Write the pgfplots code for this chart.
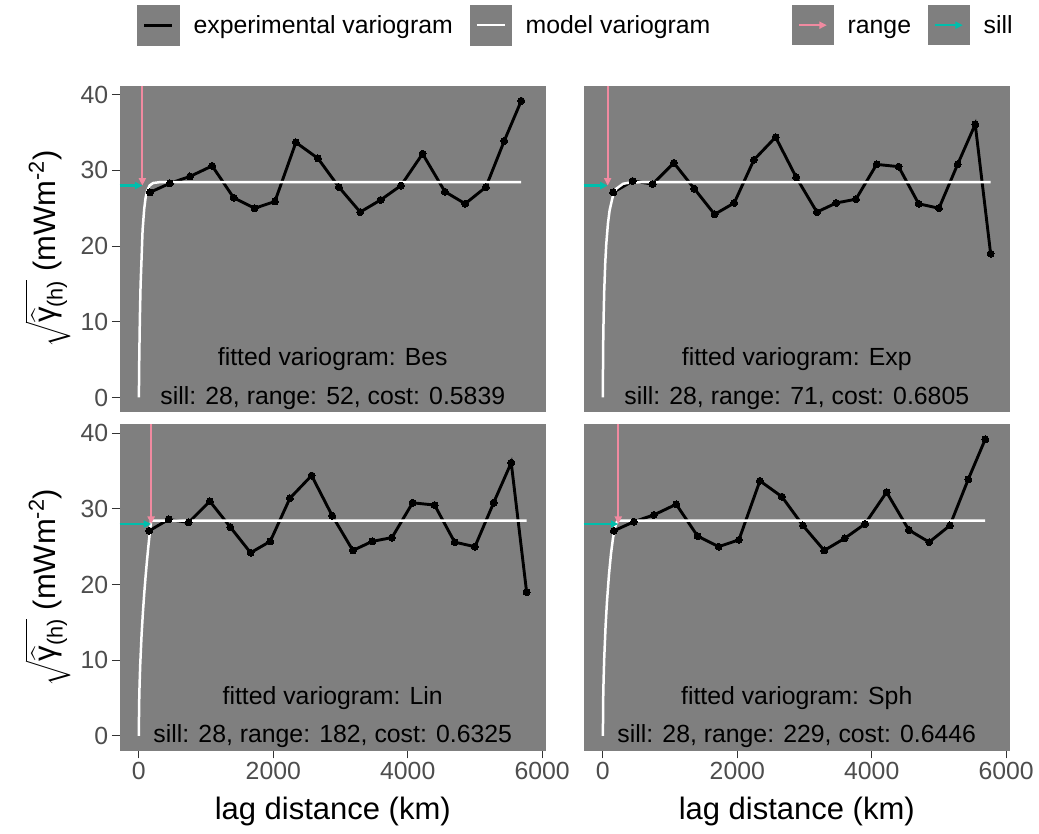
\RequirePackage{fix-cm}
\documentclass[border=0pt]{standalone}
\usepackage{amsmath}
\usepackage{fontspec}
\setmainfont{Liberation Sans}
\usepackage{pgfplots}
\usepackage{pgfplotstable}
\pgfplotsset{compat=1.18}
\usetikzlibrary{arrows.meta}
\definecolor{panelgray}{HTML}{7F7F7F}
\definecolor{tickgray}{HTML}{4D4D4D}
\definecolor{tickdark}{HTML}{333333}
\definecolor{rangecol}{RGB}{240,138,160}
\definecolor{sillcol}{RGB}{0,190,172}
\newcommand{\smallfont}{\fontsize{24.9}{30}\selectfont}
\newcommand{\bigfont}{\fontsize{31.1}{37}\selectfont}

\pgfplotstableread{
lag val
164 27.1
461 28.3
759 29.2
1091 30.6
1409 26.4
1722 25.0
2024 25.9
2336 33.7
2664 31.6
2976 27.8
3293 24.5
3597 26.1
3899 28.0
4221 32.2
4553 27.2
4855 25.6
5163 27.8
5436 33.9
5689 39.2
}\expA
\pgfplotstableread{
lag val
153 27.1
442 28.6
740 28.2
1056 31.0
1359 27.6
1662 24.2
1954 25.7
2247 31.4
2570 34.4
2876 29.1
3184 24.5
3472 25.7
3765 26.2
4073 30.8
4400 30.5
4698 25.6
5000 25.0
5278 30.8
5540 36.1
5769 19.0
}\expB
\pgfplotstableread{
lag val
0 0
5 4.6
10 7.8
15 10.6
25 14.8
40 18.4
55 22.1
79 24.9
100 26.4
124 27.3
160 28.02
213 28.34
300 28.44
5689 28.45
}\modBes
\pgfplotstableread{
lag val
0 0
2 4.74
5 7.42
10 10.31
20 14.10
35 17.75
50 20.23
75 22.98
100 24.73
150 26.68
200 27.59
300 28.24
400 28.40
600 28.45
5769 28.45
}\modExp
\pgfplotstableread{
lag val
0 0
2 2.98
5 4.72
10 6.67
20 9.43
40 13.34
60 16.34
80 18.86
100 21.09
120 23.10
140 24.95
160 26.67
182 28.45
5769 28.45
}\modLin
\pgfplotstableread{
lag val
0 0
5 5.15
10 7.28
20 10.28
40 14.49
60 17.63
90 21.27
120 24.04
150 26.11
180 27.53
205 28.23
229 28.45
5689 28.45
}\modSph

\pgfplotsset{
  panel/.style={
    width=426.5bp, height=326.3bp, scale only axis,
    anchor=south west,
    xmin=-288.45, xmax=6057.45, ymin=-1.96, ymax=41.16,
    axis background/.style={fill=panelgray},
    axis line style={draw=none},
    tick align=outside, tick pos=left,
    major tick length=7.7bp,
    tick style={tickdark, line width=1.1bp},
    xtick={0,2000,4000,6000}, ytick={0,10,20,30,40},
    scaled ticks=false,
    /pgf/number format/1000 sep={},
    /pgf/number format/assume math mode=true,
    tick label style={font=\smallfont, text=tickgray},
    xlabel style={font=\bigfont, at={(axis description cs:0.5,-0.2123)}, anchor=base},
    ylabel style={font=\bigfont, at={(axis description cs:-0.1512,0.5)}, anchor=base},
    legend image code/.code={
      \fill[panelgray] (0bp,-11.05bp) rectangle (39.4bp,27.25bp);
      \draw[##1] (5.7bp,8.1bp) -- (33.7bp,8.1bp);},
    legend columns=-1,
  },
  expline/.style={black, line width=2.9bp, mark=*, mark size=3.5bp,
    mark options={solid, fill=black, draw=black, line width=0pt}},
  modline/.style={white, line width=2.5bp, no marks},
  rangearrow/.style={rangecol, line width=2.2bp, no marks, -{Triangle[length=7.5bp,width=7bp]}},
  sillarrow/.style={sillcol, line width=2.2bp, no marks, -{Triangle[length=7.5bp,width=7bp]}},
  legstyle/.style={draw=none, fill=none, inner sep=0pt, outer sep=0pt,
    font=\smallfont, nodes={inner sep=0pt, text=black, anchor=base west},
    cells={anchor=base west},
    /tikz/every odd column/.append style={column sep=14bp},
    /tikz/every even column/.append style={column sep=17bp}},
}
\newcommand{\ylab}{$\sqrt{\widehat{\text{γ}}_{\text{(h)}}}$ (mWm$^{\text{-2}}$)}

\begin{document}
\begin{tikzpicture}
\fill[white] (0,0) rectangle (1039bp,834bp);
\path[use as bounding box] (0,0) rectangle (1039bp,834bp);

% Top-left: Bes
\begin{axis}[panel, at={(119.5bp,421.7bp)}, xtick=\empty, ylabel={\ylab},
  legend style={legstyle, at={(axis description cs:0.0417,1.1863)}, anchor=west}]
\addlegendimage{black, line width=2.9bp}
\addlegendentry{experimental variogram}
\addlegendimage{white, line width=2.5bp}
\addlegendentry{model variogram}
\addplot[expline, forget plot] table[x=lag,y=val] {\expA};
\addplot[modline, forget plot] table[x=lag,y=val] {\modBes};
\addplot[rangearrow, forget plot] coordinates {(52,41.16) (52,28)};
\addplot[sillarrow, forget plot] coordinates {(-288.45,28) (52,28)};
\node[font=\smallfont, anchor=base] at (rel axis cs:0.5,0.142) {fitted variogram: Bes};
\node[font=\smallfont, anchor=base] at (rel axis cs:0.5,0.0245) {sill: 28, range: 52, cost: 0.5839};
\end{axis}

% Top-right: Exp
\begin{axis}[panel, at={(583.5bp,421.7bp)}, xtick=\empty, ytick=\empty,
  legend style={legstyle, at={(axis description cs:0.4889,1.1863)}, anchor=west}]
\addlegendimage{rangecol, line width=2.2bp, -{Triangle[length=7.5bp,width=7bp]}}
\addlegendentry{range}
\addlegendimage{sillcol, line width=2.2bp, -{Triangle[length=7.5bp,width=7bp]}}
\addlegendentry{sill}
\addplot[expline, forget plot] table[x=lag,y=val] {\expB};
\addplot[modline, forget plot] table[x=lag,y=val] {\modExp};
\addplot[rangearrow, forget plot] coordinates {(71,41.16) (71,28)};
\addplot[sillarrow, forget plot] coordinates {(-288.45,28) (71,28)};
\node[font=\smallfont, anchor=base] at (rel axis cs:0.5,0.142) {fitted variogram: Exp};
\node[font=\smallfont, anchor=base] at (rel axis cs:0.5,0.0245) {sill: 28, range: 71, cost: 0.6805};
\end{axis}

% Bottom-left: Lin
\begin{axis}[panel, at={(119.5bp,83.3bp)}, ylabel={\ylab}, xlabel={lag distance (km)}]
\addplot[expline] table[x=lag,y=val] {\expB};
\addplot[modline] table[x=lag,y=val] {\modLin};
\addplot[rangearrow] coordinates {(182,41.16) (182,28)};
\addplot[sillarrow] coordinates {(-288.45,28) (182,28)};
\node[font=\smallfont, anchor=base] at (rel axis cs:0.5,0.142) {fitted variogram: Lin};
\node[font=\smallfont, anchor=base] at (rel axis cs:0.5,0.0245) {sill: 28, range: 182, cost: 0.6325};
\end{axis}

% Bottom-right: Sph
\begin{axis}[panel, at={(583.5bp,83.3bp)}, ytick=\empty, xlabel={lag distance (km)}]
\addplot[expline] table[x=lag,y=val] {\expA};
\addplot[modline] table[x=lag,y=val] {\modSph};
\addplot[rangearrow] coordinates {(229,41.16) (229,28)};
\addplot[sillarrow] coordinates {(-288.45,28) (229,28)};
\node[font=\smallfont, anchor=base] at (rel axis cs:0.5,0.142) {fitted variogram: Sph};
\node[font=\smallfont, anchor=base] at (rel axis cs:0.5,0.0245) {sill: 28, range: 229, cost: 0.6446};
\end{axis}
\end{tikzpicture}
\end{document}
